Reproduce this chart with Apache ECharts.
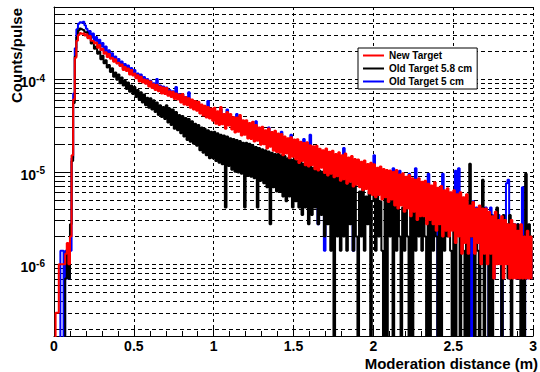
<!DOCTYPE html>
<html>
<head>
<meta charset="utf-8">
<script src="https://cdn.jsdelivr.net/npm/echarts@6/dist/echarts.min.js"></script>
<style>
html, body { margin: 0; padding: 0; background: #fff; }
#chart { width: 540px; height: 372px; }
</style>
</head>
<body>
<div id="chart"></div>
<script>
// histogram bins: 0.01 m wide, first bin centred at 0.005 m
const binStart = 0.005
const binWidth = 0.01
// counts/pulse in units of 1e-7, one row = 0.1 m, 0 = empty bin
const yUnit = 1e-7

const newTarget = [
  0, 3, 3, 10, 10, 10, 10, 13, 17, 10,
  20, 150, 600, 1700, 2600, 3000, 3150, 3080, 3120, 2950,
  3050, 2760, 2920, 2600, 2580, 2420, 2480, 2180, 2330, 2060,
  2120, 1880, 1950, 1730, 1860, 1660, 1700, 1540, 1640, 1470,
  1500, 1380, 1440, 1250, 1350, 1220, 1300, 1120, 1250, 1090,
  1150, 1020, 1100, 940, 1060, 920, 990, 890, 970, 830,
  940, 800, 880, 760, 870, 740, 830, 700, 810, 690,
  800, 660, 740, 640, 730, 610, 700, 600, 680, 560,
  690, 530, 640, 520, 620, 490, 600, 470, 580, 455,
  570, 425, 530, 405, 515, 385, 500, 375, 480, 355,
  490, 330, 450, 320, 500, 325, 420, 290, 440, 315,
  420, 285, 390, 265, 385, 270, 410, 245, 360, 250,
  360, 228, 335, 225, 345, 212, 320, 216, 300, 195,
  305, 198, 280, 178, 292, 186, 268, 168, 276, 163,
  258, 160, 255, 150, 240, 157, 230, 140, 236, 145,
  222, 136, 224, 124, 210, 130, 204, 117, 208, 114,
  193, 117, 188, 106, 190, 103, 177, 110, 170, 97,
  178, 91, 164, 95, 168, 87, 155, 89, 162, 80,
  150, 83, 157, 74, 142, 78, 148, 69, 137, 72,
  135, 68, 128, 63, 132, 65, 121, 58, 125, 56,
  120, 53, 110, 56, 114, 50, 107, 53, 104, 47,
  103, 50, 99, 43, 104, 40, 93, 43, 96, 37,
  88, 40, 92, 33, 85, 37, 82, 30, 85, 33,
  78, 33, 80, 27, 74, 30, 71, 27, 77, 23,
  67, 27, 70, 20, 63, 23, 66, 20, 60, 23,
  63, 17, 57, 20, 60, 13, 53, 17, 57, 13,
  43, 20, 47, 13, 40, 17, 43, 10, 40, 13,
  40, 10, 37, 13, 33, 7, 37, 10, 30, 10,
  33, 7, 30, 10, 27, 7, 30, 7, 27, 7,
  23, 7, 27, 7, 20, 7, 23, 7, 20, 7
]

const oldTarget58 = [
  0, 0, 0, 0, 0, 0, 0, 7, 14, 7,
  27, 130, 550, 1750, 2850, 3350, 3520, 3450, 3380, 3200,
  3200, 2780, 2900, 2420, 2520, 2120, 2250, 1880, 1990, 1640,
  1780, 1480, 1600, 1330, 1420, 1190, 1310, 1060, 1180, 980,
  1120, 900, 1040, 850, 960, 780, 920, 730, 850, 690,
  820, 640, 760, 600, 720, 560, 680, 520, 630, 490,
  620, 470, 590, 440, 560, 410, 520, 390, 500, 370,
  520, 340, 480, 320, 470, 290, 440, 280, 410, 260,
  400, 240, 380, 220, 370, 210, 350, 200, 330, 190,
  320, 170, 300, 160, 290, 150, 280, 140, 270, 140,
  270, 130, 260, 125, 250, 120, 245, 41, 240, 115,
  230, 105, 225, 100, 220, 98, 215, 95, 205, 41,
  205, 90, 200, 88, 190, 85, 185, 41, 180, 80,
  175, 75, 170, 68, 165, 27, 160, 68, 155, 61,
  155, 61, 150, 54, 148, 48, 140, 54, 135, 41,
  136, 48, 130, 41, 128, 34, 122, 41, 115, 27,
  115, 34, 110, 41, 109, 27, 102, 34, 100, 20,
  102, 27, 95, 14, 95, 0, 88, 20, 88, 14,
  88, 20, 82, 14, 82, 27, 75, 14, 75, 20,
  0, 61, 20, 68, 14, 54, 27, 61, 0, 48,
  68, 14, 61, 20, 48, 14, 0, 54, 0, 61,
  20, 54, 0, 48, 14, 61, 20, 0, 41, 14,
  54, 20, 0, 48, 0, 41, 14, 54, 20, 41,
  14, 48, 20, 0, 41, 0, 34, 14, 48, 20,
  0, 41, 0, 34, 14, 48, 20, 41, 14, 0,
  34, 0, 27, 41, 0, 34, 14, 0, 27, 0,
  122, 20, 34, 0, 27, 14, 0, 34, 82, 0,
  27, 14, 0, 34, 0, 27, 20, 41, 14, 27,
  0, 34, 14, 27, 7, 34, 0, 27, 14, 20,
  27, 7, 0, 20, 0, 95, 14, 27, 7, 20
]

const oldTarget5 = [
  0, 0, 0, 0, 14, 14, 0, 14, 7, 7,
  14, 140, 700, 2150, 3450, 3950, 4100, 4050, 4150, 3800,
  3500, 2950, 3300, 2800, 3100, 2600, 2850, 2400, 2650, 2250,
  2450, 2000, 2250, 1850, 2050, 1750, 1900, 1620, 1750, 1550,
  1650, 1400, 1550, 1300, 1450, 1250, 1400, 1180, 1320, 1120,
  1250, 1040, 1150, 980, 1120, 940, 1050, 900, 1000, 860,
  960, 820, 900, 780, 1000, 760, 850, 720, 830, 710,
  810, 680, 760, 660, 740, 630, 820, 620, 690, 580,
  680, 560, 640, 550, 720, 520, 590, 500, 570, 490,
  560, 460, 520, 440, 500, 420, 580, 410, 470, 390,
  450, 370, 420, 350, 470, 360, 390, 320, 470, 345,
  380, 320, 360, 300, 420, 300, 375, 280, 330, 280,
  335, 260, 310, 255, 315, 240, 350, 245, 275, 225,
  280, 225, 255, 205, 300, 210, 245, 195, 250, 190,
  235, 185, 270, 175, 220, 180, 210, 165, 250, 170,
  200, 160, 205, 150, 190, 150, 225, 140, 190, 135,
  250, 135, 170, 125, 172, 27, 160, 125, 155, 14,
  162, 110, 150, 110, 152, 102, 140, 105, 147, 95,
  136, 180, 142, 88, 130, 92, 134, 14, 125, 85,
  122, 82, 116, 75, 120, 75, 110, 68, 114, 68,
  150, 61, 102, 68, 105, 61, 100, 61, 95, 54,
  95, 54, 109, 54, 95, 48, 102, 54, 88, 48,
  82, 48, 95, 41, 82, 41, 109, 41, 75, 41,
  75, 41, 75, 34, 95, 34, 68, 34, 68, 34,
  0, 34, 61, 95, 61, 27, 61, 27, 54, 27,
  54, 102, 48, 109, 54, 20, 48, 27, 48, 20,
  41, 0, 48, 14, 41, 20, 41, 14, 41, 14,
  41, 14, 0, 41, 34, 7, 34, 14, 34, 14,
  0, 27, 27, 75, 82, 7, 27, 14, 27, 7,
  27, 7, 20, 68, 0, 20, 7, 20, 14, 7
]

const seriesNames = ['New Target', 'Old Target 5.8 cm', 'Old Target 5 cm']
const yGridValues = [
  2e-7, 3e-7, 4e-7, 5e-7, 6e-7, 7e-7, 8e-7, 9e-7,
  1e-6, 2e-6, 3e-6, 4e-6, 5e-6, 6e-6, 7e-6, 8e-6, 9e-6,
  1e-5, 2e-5, 3e-5, 4e-5, 5e-5, 6e-5, 7e-5, 8e-5, 9e-5,
  1e-4, 2e-4, 3e-4, 4e-4, 5e-4
]
const yMajorValues = [1e-6, 1e-5, 1e-4]

const FONT = '"Liberation Sans", Arial, Helvetica, sans-serif'
const chart = echarts.init(document.getElementById('chart'), null, { renderer: 'svg' })

// empty bins go below the log axis so the step drops off the bottom
const toPoints = (vals) => vals.map((v, i) => [binStart + i * binWidth, v > 0 ? v * yUnit : 1e-9])

const histSeries = (name, vals, color, z) => ({
  name: name,
  type: 'line',
  step: 'middle',
  data: toPoints(vals),
  symbol: 'none',
  showSymbol: false,
  clip: true,
  z: z,
  lineStyle: { color: color, width: 2 },
  itemStyle: { color: color }
})

// dashed log grid line plus an inner tick on the y axis for every grid value
const renderGridLine = (params, api) => {
  const cs = params.coordSys
  const v = api.value(1)
  const y = Math.round(api.coord([0, v])[1]) + 0.5
  const tickLen = yMajorValues.includes(v) ? 17 : 9
  return {
    type: 'group',
    children: [
      { type: 'line', shape: { x1: cs.x, y1: y, x2: cs.x + cs.width, y2: y },
        style: { stroke: '#000', lineWidth: 1, lineDash: [4, 3] } },
      { type: 'line', shape: { x1: cs.x, y1: y, x2: cs.x + tickLen, y2: y },
        style: { stroke: '#000', lineWidth: 1 } }
    ]
  }
}

const option = {
  animation: false,
  backgroundColor: '#fff',
  grid: { left: 54, top: 7, right: 0, bottom: 36 },
  legend: {
    data: seriesNames,
    orient: 'vertical',
    left: 358, top: 48,
    backgroundColor: '#fff',
    borderColor: '#000', borderWidth: 1,
    padding: [2, 5, 2, 4],
    itemGap: 2, itemWidth: 21, itemHeight: 11,
    itemStyle: { opacity: 0 },
    lineStyle: { width: 2 },
    textStyle: { fontFamily: FONT, fontWeight: 'bold', fontSize: 10, color: '#000', lineHeight: 11 }
  },
  xAxis: [
    {
      type: 'value', min: 0, max: 3, interval: 0.5,
      axisLine: { onZero: false, lineStyle: { color: '#000', width: 1 } },
      axisTick: { inside: true, length: 9, lineStyle: { color: '#000' } },
      minorTick: { show: true, splitNumber: 5, length: 5, lineStyle: { color: '#000' } },
      splitLine: { show: true, lineStyle: { color: '#000', width: 1, type: [3, 3] } },
      axisLabel: {
        fontFamily: FONT, fontWeight: 'bold', fontSize: 14, lineHeight: 14, color: '#000', margin: 3,
        alignMaxLabel: 'center',
        formatter: (v) => String(v)
      }
    },
    {
      // top frame line
      type: 'value', position: 'top', min: 0, max: 3,
      axisLine: { show: true, onZero: false, lineStyle: { color: '#000', width: 1 } },
      axisTick: { show: false }, axisLabel: { show: false }, splitLine: { show: false }
    }
  ],
  yAxis: {
    type: 'log', logBase: 10, min: 1.68e-7, max: 6e-4,
    axisLine: { show: true, lineStyle: { color: '#000', width: 1 } },
    axisTick: { show: false },
    splitLine: { show: false },
    axisLabel: {
      showMinLabel: false, showMaxLabel: false, margin: 9,
      formatter: (v) => {
        const e = Math.round(Math.log10(v))
        if (Math.abs(Math.log10(v) - e) > 1e-6) return ''
        return '{b|10}{s|' + e + '}'
      },
      rich: {
        b: { fontFamily: FONT, fontWeight: 'bold', fontSize: 14, lineHeight: 14, color: '#000', padding: [6, 0, 0, 0] },
        s: { fontFamily: FONT, fontWeight: 'bold', fontSize: 10, lineHeight: 10, color: '#000', padding: [4, 0, 6, 0] }
      }
    }
  },
  graphic: [
    {
      type: 'text', x: 9, y: 8, rotation: Math.PI / 2,
      style: {
        text: 'Counts/pulse', font: 'bold 15px ' + FONT, fill: '#000', lineHeight: 15,
        textAlign: 'right', textVerticalAlign: 'top', align: 'right', verticalAlign: 'top'
      }
    },
    {
      type: 'text', x: 538, y: 356,
      style: {
        text: 'Moderation distance (m)', font: 'bold 15px ' + FONT, fill: '#000', lineHeight: 15,
        textAlign: 'right', textVerticalAlign: 'top', align: 'right', verticalAlign: 'top'
      }
    }
  ],
  series: [
    {
      type: 'custom',
      silent: true,
      z: 1,
      clip: false,
      renderItem: renderGridLine,
      encode: { x: 0, y: 1 },
      data: yGridValues.map((v) => [0, v])
    },
    histSeries(seriesNames[2], oldTarget5, '#0000ff', 2),
    histSeries(seriesNames[1], oldTarget58, '#000000', 3),
    histSeries(seriesNames[0], newTarget, '#ff0000', 4)
  ]
}

chart.setOption(option)
</script>
</body>
</html>
